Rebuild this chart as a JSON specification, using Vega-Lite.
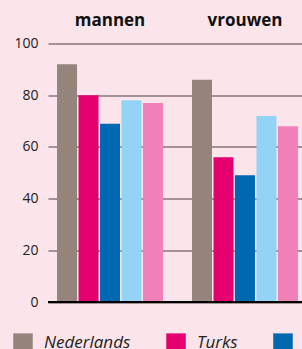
{
  "$schema": "https://vega.github.io/schema/vega-lite/v6.json",
  "width": 259,
  "height": 258.5,
  "autosize": "none",
  "padding": {"left": 48, "top": 43.5, "right": 0, "bottom": 47},
  "background": "#fbe4ea",
  "config": {"view": {"stroke": null}, "font": "Open Sans"},
  "data": {
    "values": [
      {"geslacht": "mannen", "herkomst": "Nederlands", "waarde": 92},
      {"geslacht": "mannen", "herkomst": "Turks", "waarde": 80},
      {"geslacht": "mannen", "herkomst": "Marokkaans", "waarde": 69},
      {"geslacht": "mannen", "herkomst": "Surinaams", "waarde": 78},
      {"geslacht": "mannen", "herkomst": "Antilliaans", "waarde": 77},
      {"geslacht": "vrouwen", "herkomst": "Nederlands", "waarde": 86},
      {"geslacht": "vrouwen", "herkomst": "Turks", "waarde": 56},
      {"geslacht": "vrouwen", "herkomst": "Marokkaans", "waarde": 49},
      {"geslacht": "vrouwen", "herkomst": "Surinaams", "waarde": 72},
      {"geslacht": "vrouwen", "herkomst": "Antilliaans", "waarde": 68}
    ]
  },
  "layer": [
    {
      "mark": {"type": "bar"},
      "encoding": {
        "x": {
          "field": "geslacht",
          "type": "nominal",
          "sort": ["mannen", "vrouwen"],
          "scale": {"paddingInner": 0.215, "paddingOuter": 0.067},
          "axis": {
            "orient": "top",
            "title": null,
            "labelAngle": 0,
            "labelFontWeight": "bold",
            "labelFontSize": 17,
            "labelColor": "#111",
            "ticks": false,
            "domain": false,
            "labelPadding": 14
          }
        },
        "xOffset": {
          "field": "herkomst",
          "type": "nominal",
          "sort": ["Nederlands", "Turks", "Marokkaans", "Surinaams", "Antilliaans"],
          "scale": {"paddingInner": 0.07}
        },
        "y": {
          "field": "waarde",
          "type": "quantitative",
          "scale": {"domain": [0, 100]},
          "axis": {
            "values": [0, 20, 40, 60, 80, 100],
            "title": null,
            "grid": true,
            "gridColor": "#4d3f43",
            "gridOpacity": 1,
            "gridWidth": 1,
            "ticks": false,
            "domain": false,
            "labelPadding": 10,
            "labelFontSize": 14,
            "labelColor": "#222"
          }
        },
        "color": {
          "field": "herkomst",
          "type": "nominal",
          "sort": ["Nederlands", "Turks", "Marokkaans", "Surinaams", "Antilliaans"],
          "scale": {
            "domain": ["Nederlands", "Turks", "Marokkaans", "Surinaams", "Antilliaans"],
            "range": ["#94847c", "#e4006f", "#0067b1", "#93d3f5", "#f180b8"]
          },
          "legend": {
            "orient": "none",
            "legendX": -35,
            "legendY": 289.5,
            "direction": "horizontal",
            "title": null,
            "symbolType": "square",
            "symbolSize": 380,
            "symbolStrokeWidth": 0,
            "labelFontStyle": "italic",
            "labelFontSize": 17,
            "labelColor": "#222",
            "labelOffset": 11,
            "columnPadding": 35,
            "labelLimit": 300
          }
        }
      }
    },
    {
      "mark": {"type": "rule", "color": "#000", "strokeWidth": 2},
      "encoding": {"y": {"datum": 0}}
    }
  ]
}
